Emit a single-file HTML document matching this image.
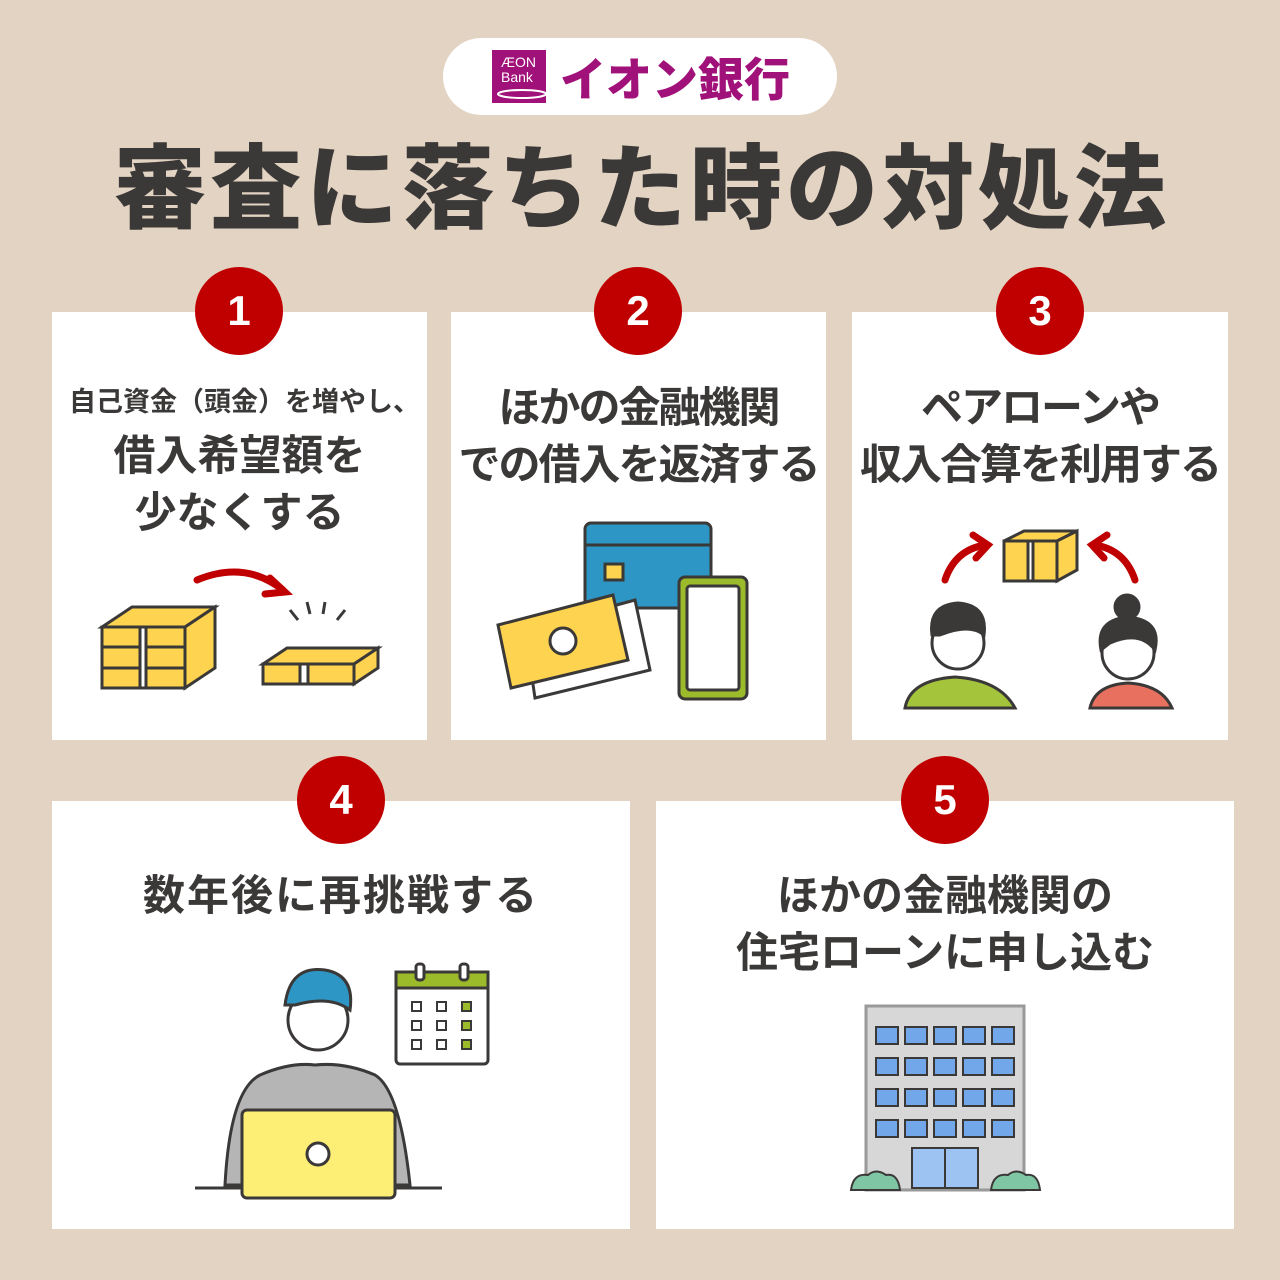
<!DOCTYPE html>
<html><head><meta charset="utf-8"><style>
*{margin:0;padding:0;box-sizing:border-box}
body{width:1280px;height:1280px;background:#e3d3c2;position:relative;overflow:hidden;font-family:"Liberation Sans","Noto Sans CJK JP",sans-serif;color:#3b3838}
.pill{position:absolute;left:443px;top:38px;width:394px;height:77px;background:#fff;border-radius:39px}
.title{position:absolute;left:0;width:1280px;top:126px;text-align:center;font-size:92px;font-weight:900;letter-spacing:4px;text-indent:4px;line-height:112px;font-family:"Noto Sans CJK JP",sans-serif}
.card{position:absolute;background:#fff}
.num{position:absolute;width:88px;height:88px;border-radius:50%;background:#c00000;color:#fff;font-weight:bold;font-size:42px;text-align:center;line-height:88px;font-family:"Liberation Sans",sans-serif}
.t{position:absolute;text-align:center;font-weight:bold;font-family:"Noto Sans CJK JP",sans-serif;white-space:nowrap}
svg{position:absolute}
</style></head><body>
<div class="pill"></div>
<svg style="left:492px;top:50px" width="300" height="54">
<rect x="0" y="0" width="54" height="53" fill="#a0117a"/>
<text x="9" y="17" font-size="14" fill="#fff" font-family="Liberation Sans">ÆON</text>
<text x="9" y="32" font-size="14" fill="#fff" font-family="Liberation Sans">Bank</text>
<ellipse cx="30" cy="44" rx="24" ry="4" fill="none" stroke="#fff" stroke-width="2"/>
<text x="68" y="46" font-size="46" font-weight="900" fill="#a0117a" font-family="Noto Sans CJK JP,sans-serif">イオン銀行</text>
</svg>
<div class="title">審査に落ちた時の対処法</div>

<div class="card" style="left:52px;top:312px;width:375px;height:428px"></div>
<div class="card" style="left:451px;top:312px;width:375px;height:428px"></div>
<div class="card" style="left:852px;top:312px;width:376px;height:428px"></div>
<div class="card" style="left:52px;top:801px;width:578px;height:428px"></div>
<div class="card" style="left:656px;top:801px;width:578px;height:428px"></div>

<div class="num" style="left:195px;top:267px">1</div>
<div class="num" style="left:594px;top:267px">2</div>
<div class="num" style="left:996px;top:267px">3</div>
<div class="num" style="left:297px;top:756px">4</div>
<div class="num" style="left:901px;top:756px">5</div>

<div class="t" style="left:57px;width:375px;top:380px;font-size:27px;line-height:40px;letter-spacing:0px">自己資金（頭金）を増やし、</div>
<div class="t" style="left:52px;width:375px;top:424px;font-size:42px;line-height:57px">借入希望額を<br>少なくする</div>
<div class="t" style="left:451px;width:375px;top:376px;font-size:42px;line-height:57px;letter-spacing:-2px">ほかの金融機関<br>での借入を返済する</div>
<div class="t" style="left:852px;width:376px;top:376px;font-size:42px;line-height:57px;letter-spacing:-2px">ペアローンや<br>収入合算を利用する</div>
<div class="t" style="left:52px;width:578px;top:864px;font-size:42px;line-height:57px;letter-spacing:2px">数年後に再挑戦する</div>
<div class="t" style="left:656px;width:578px;top:864px;font-size:42px;line-height:57px">ほかの金融機関の<br>住宅ローンに申し込む</div>

<!-- card1 illus -->
<svg style="left:95px;top:560px" width="300" height="135" stroke="#3b3838" stroke-width="3">
<path d="M102 20 Q150 0 188 30" fill="none" stroke="#c00000" stroke-width="7" stroke-linecap="round"/>
<path d="M175 18 L190 32 L170 34" fill="none" stroke="#c00000" stroke-width="7" stroke-linecap="round"/>
<polygon points="7,67 37,47 120,47 90,67" fill="#fdd34f"/>
<rect x="7" y="67" width="83" height="61" fill="#fdd34f"/>
<polygon points="90,67 120,47 120,108 90,128" fill="#fdd34f"/>
<line x1="7" y1="87" x2="90" y2="87"/><line x1="7" y1="108" x2="90" y2="108"/>
<rect x="45" y="67" width="6" height="61" fill="#fff"/>
<polygon points="168,104 192,88 283,88 259,104" fill="#fdd34f"/>
<rect x="168" y="104" width="91" height="20" fill="#fdd34f"/>
<polygon points="259,104 283,88 283,108 259,124" fill="#fdd34f"/>
<rect x="205" y="104" width="8" height="20" fill="#fff"/>
<path d="M195 50 l8 10 M212 42 l3 12 M230 42 l-2 12 M250 50 l-8 10" fill="none"/>
</svg>

<!-- card2 illus -->
<svg style="left:495px;top:520px" width="260" height="185" stroke="#3b3838" stroke-width="3">
<rect x="90" y="3" width="126" height="85" rx="6" fill="#2e96c4"/>
<line x1="90" y1="25" x2="216" y2="25"/>
<rect x="110" y="44" width="18" height="16" fill="#fdd34f"/>
<polygon points="30,110 140,80 155,150 40,178" fill="#fff"/>
<polygon points="3,105 118,75 133,140 16,168" fill="#fdd34f"/>
<circle cx="68" cy="121" r="13" fill="#fff"/>
<rect x="184" y="57" width="68" height="122" rx="6" fill="#9cbb2a"/>
<rect x="192" y="66" width="52" height="104" rx="3" fill="#fff"/>
</svg>

<!-- card3 illus -->
<svg style="left:900px;top:525px" width="280" height="185">
<path d="M45 55 Q55 25 85 20" fill="none" stroke="#c00000" stroke-width="7" stroke-linecap="round"/>
<path d="M73 10 L88 20 L76 33" fill="none" stroke="#c00000" stroke-width="7" stroke-linecap="round"/>
<path d="M235 55 Q225 25 195 20" fill="none" stroke="#c00000" stroke-width="7" stroke-linecap="round"/>
<path d="M207 10 L192 20 L204 33" fill="none" stroke="#c00000" stroke-width="7" stroke-linecap="round"/>
<g stroke="#3b3838" stroke-width="3">
<polygon points="104,16 124,6 177,6 157,16" fill="#fdd34f"/>
<rect x="104" y="16" width="53" height="40" fill="#fdd34f"/>
<polygon points="157,16 177,6 177,45 157,56" fill="#fdd34f"/>
<rect x="128" y="16" width="5" height="40" fill="#fff"/>
<path d="M5 183 Q10 155 55 152 Q100 155 115 183Z" fill="#a4c43c"/>
<circle cx="58" cy="118" r="26" fill="#fff"/>
<path d="M32 110 Q28 80 58 78 Q88 80 84 110 Q70 98 40 110Z" fill="#3b3838"/>
<path d="M190 183 Q195 160 228 158 Q262 160 272 183Z" fill="#e8705e"/>
<circle cx="228" cy="128" r="26" fill="#fff"/>
<path d="M201 125 Q195 95 228 92 Q262 95 255 125 Q240 105 210 118Z" fill="#3b3838"/>
<circle cx="227" cy="82" r="12" fill="#3b3838"/>
</g>
</svg>

<!-- card4 illus -->
<svg style="left:190px;top:960px" width="310" height="245" stroke="#3b3838" stroke-width="3">
<line x1="5" y1="228" x2="252" y2="228"/>
<path d="M35 225 Q40 130 70 115 Q100 102 125 105 Q155 102 185 115 Q210 130 220 225Z" fill="#b5b5b5"/>
<circle cx="128" cy="60" r="30" fill="#fff"/>
<path d="M95 45 Q100 5 135 10 Q165 15 160 50 Q140 35 105 45Z" fill="#2e96c4"/>
<rect x="52" y="150" width="153" height="88" rx="5" fill="#fdef76"/>
<circle cx="128" cy="194" r="11" fill="#fff"/>
<rect x="206" y="12" width="92" height="92" rx="4" fill="#fff"/>
<rect x="206" y="12" width="92" height="16" fill="#9cbb2a"/>
<rect x="226" y="4" width="8" height="16" rx="3" fill="#fff"/><rect x="270" y="4" width="8" height="16" rx="3" fill="#fff"/>
<g stroke-width="2" fill="#fff"><rect x="222" y="42" width="9" height="9"/><rect x="247" y="42" width="9" height="9"/><rect x="272" y="42" width="9" height="9" fill="#9cbb2a"/>
<rect x="222" y="61" width="9" height="9"/><rect x="247" y="61" width="9" height="9"/><rect x="272" y="61" width="9" height="9" fill="#9cbb2a"/>
<rect x="222" y="80" width="9" height="9"/><rect x="247" y="80" width="9" height="9"/><rect x="272" y="80" width="9" height="9" fill="#9cbb2a"/></g>
</svg>

<!-- card5 illus -->
<svg style="left:848px;top:1003px" width="195" height="190" stroke="#3b3838" stroke-width="3">
<rect x="18" y="3" width="158" height="184" fill="#d7d7d7" stroke="#999"/>
<g fill="#72a8ea" stroke-width="2">
<rect x="28" y="24" width="22" height="17"/><rect x="57" y="24" width="22" height="17"/><rect x="86" y="24" width="22" height="17"/><rect x="115" y="24" width="22" height="17"/><rect x="144" y="24" width="22" height="17"/>
<rect x="28" y="55" width="22" height="17"/><rect x="57" y="55" width="22" height="17"/><rect x="86" y="55" width="22" height="17"/><rect x="115" y="55" width="22" height="17"/><rect x="144" y="55" width="22" height="17"/>
<rect x="28" y="86" width="22" height="17"/><rect x="57" y="86" width="22" height="17"/><rect x="86" y="86" width="22" height="17"/><rect x="115" y="86" width="22" height="17"/><rect x="144" y="86" width="22" height="17"/>
<rect x="28" y="117" width="22" height="17"/><rect x="57" y="117" width="22" height="17"/><rect x="86" y="117" width="22" height="17"/><rect x="115" y="117" width="22" height="17"/><rect x="144" y="117" width="22" height="17"/>
<rect x="64" y="145" width="66" height="40" fill="#9dc3f2"/></g>
<line x1="97" y1="145" x2="97" y2="185" stroke-width="2"/>
<path d="M3 187 Q5 170 20 172 Q28 165 38 172 Q50 170 52 187Z" fill="#7fc6a4" stroke-width="2"/>
<path d="M143 187 Q145 170 160 172 Q168 165 178 172 Q190 170 192 187Z" fill="#7fc6a4" stroke-width="2"/>
</svg>
</body></html>
